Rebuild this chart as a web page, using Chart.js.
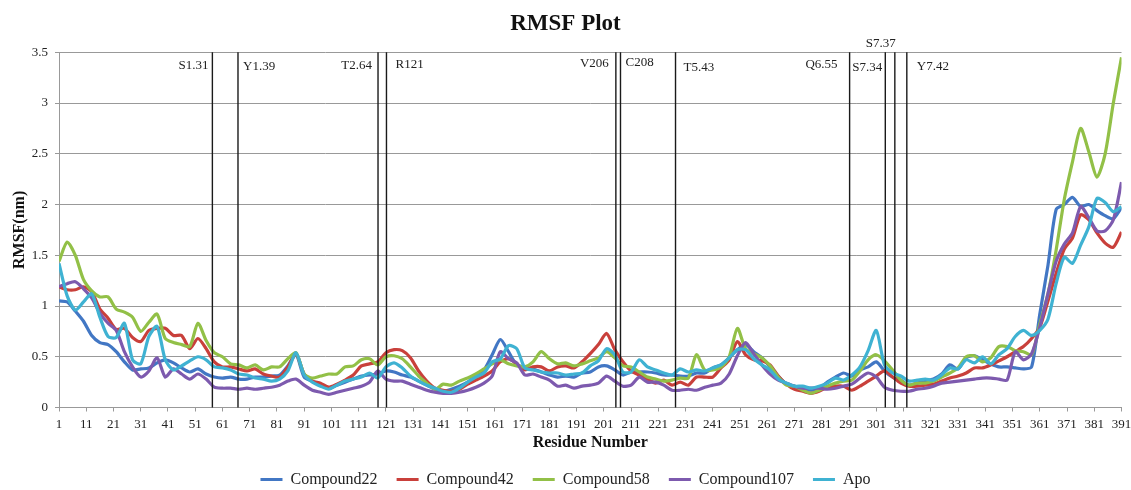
<!DOCTYPE html>
<html>
<head>
<meta charset="utf-8">
<title>RMSF Plot</title>
<script src="https://cdn.jsdelivr.net/npm/chart.js@4.4.0/dist/chart.umd.min.js"></script>
<style>
  html, body { margin: 0; padding: 0; background: #fff; }
  #rmsfChart { display: block; }
</style>
</head>
<body>
<canvas id="rmsfChart" width="1131" height="490"></canvas>
<script>
// residue numbers the values were read at
const residues = [
  1, 4, 7, 10, 13, 16, 19, 22, 25, 28, 31, 34, 37, 40, 43, 46, 49, 52, 55, 58, 61, 64, 67, 70,
  73, 76, 79, 82, 85, 88, 91, 94, 97, 100, 103, 106, 109, 112, 115, 118, 121, 124, 127, 130, 133, 136, 139,
  142, 145, 148, 151, 154, 157, 160, 163, 166, 169, 172, 175, 178, 181, 184, 187, 190, 193, 196, 199, 202, 205, 208,
  211, 214, 217, 220, 223, 226, 229, 232, 235, 238, 241, 244, 247, 250, 253, 256, 259, 262, 265, 268, 271, 274, 277, 280,
  283, 286, 289, 292, 295, 298, 301, 304, 307, 310, 313, 316, 319, 322, 325, 328, 331, 334, 337, 340, 343,
  346, 349, 352, 355, 358, 361, 364, 367, 370, 373, 376, 379, 382, 385, 388, 391
];

const xTickValues = [1, 11, 21, 31, 41, 51, 61, 71, 81, 91, 101, 111, 121, 131, 141, 151, 161, 171, 181, 191,
  201, 211, 221, 231, 241, 251, 261, 271, 281, 291, 301, 311, 321, 331, 341, 351, 361, 371, 381, 391];

// RMSF (nm)
const compound22 = [
  1.05, 1.04, 0.95, 0.85, 0.71, 0.64, 0.62, 0.55, 0.45, 0.37, 0.38, 0.39, 0.44, 0.47, 0.44, 0.39, 0.35, 0.38, 0.33, 0.30, 0.29, 0.30, 0.28, 0.28,
  0.30, 0.30, 0.31, 0.32, 0.41, 0.52, 0.30, 0.26, 0.22, 0.19, 0.22, 0.25, 0.28, 0.31, 0.32, 0.33, 0.36, 0.35, 0.32, 0.30, 0.26, 0.22, 0.18,
  0.16, 0.18, 0.21, 0.25, 0.31, 0.37, 0.52, 0.67, 0.55, 0.42, 0.40, 0.38, 0.35, 0.32, 0.30, 0.31, 0.30, 0.34, 0.35, 0.40, 0.41, 0.37, 0.32,
  0.35, 0.35, 0.35, 0.34, 0.32, 0.32, 0.31, 0.31, 0.34, 0.34, 0.39, 0.42, 0.49, 0.57, 0.62, 0.55, 0.49, 0.40, 0.31, 0.23, 0.21, 0.19, 0.17, 0.19,
  0.25, 0.30, 0.34, 0.31, 0.37, 0.40, 0.45, 0.36, 0.30, 0.27, 0.22, 0.24, 0.26, 0.28, 0.33, 0.42, 0.38, 0.49, 0.51, 0.47, 0.43,
  0.40, 0.40, 0.39, 0.38, 0.40, 0.92, 1.40, 1.95, 2.00, 2.07, 1.98, 2.00, 1.94, 1.89, 1.86, 1.97
];
const compound42 = [
  1.19, 1.16, 1.16, 1.19, 1.14, 0.97, 0.88, 0.77, 0.78, 0.69, 0.65, 0.76, 0.78, 0.78, 0.71, 0.71, 0.58, 0.68, 0.58, 0.45, 0.40, 0.40, 0.38, 0.36,
  0.38, 0.33, 0.31, 0.30, 0.40, 0.53, 0.33, 0.26, 0.24, 0.20, 0.23, 0.27, 0.32, 0.41, 0.43, 0.45, 0.54, 0.57, 0.56, 0.49, 0.36, 0.26, 0.19,
  0.17, 0.16, 0.18, 0.23, 0.27, 0.31, 0.36, 0.45, 0.48, 0.43, 0.37, 0.40, 0.40, 0.36, 0.40, 0.41, 0.39, 0.45, 0.53, 0.62, 0.73, 0.57, 0.45,
  0.36, 0.32, 0.28, 0.24, 0.27, 0.22, 0.25, 0.22, 0.30, 0.30, 0.30, 0.39, 0.47, 0.65, 0.52, 0.47, 0.46, 0.42, 0.31, 0.23, 0.18, 0.16, 0.14, 0.16,
  0.20, 0.21, 0.21, 0.17, 0.21, 0.26, 0.31, 0.36, 0.30, 0.24, 0.21, 0.21, 0.22, 0.23, 0.26, 0.29, 0.31, 0.34, 0.39, 0.39, 0.42,
  0.46, 0.50, 0.55, 0.60, 0.68, 0.79, 1.05, 1.32, 1.56, 1.67, 1.90, 1.85, 1.72, 1.62, 1.58, 1.73
];
const compound58 = [
  1.44, 1.63, 1.50, 1.26, 1.15, 1.09, 1.09, 0.97, 0.94, 0.89, 0.75, 0.84, 0.92, 0.68, 0.64, 0.62, 0.60, 0.83, 0.66, 0.54, 0.50, 0.43, 0.42, 0.39,
  0.42, 0.37, 0.40, 0.40, 0.48, 0.54, 0.33, 0.29, 0.31, 0.33, 0.33, 0.40, 0.41, 0.47, 0.48, 0.42, 0.50, 0.51, 0.48, 0.40, 0.31, 0.24, 0.18,
  0.23, 0.22, 0.26, 0.29, 0.33, 0.38, 0.43, 0.47, 0.43, 0.41, 0.40, 0.45, 0.55, 0.48, 0.43, 0.44, 0.41, 0.43, 0.46, 0.49, 0.55, 0.49, 0.41,
  0.40, 0.35, 0.30, 0.28, 0.26, 0.27, 0.29, 0.29, 0.52, 0.37, 0.37, 0.40, 0.50, 0.78, 0.58, 0.53, 0.49, 0.41, 0.30, 0.22, 0.21, 0.17, 0.14, 0.17,
  0.21, 0.24, 0.26, 0.27, 0.36, 0.47, 0.52, 0.46, 0.37, 0.27, 0.22, 0.24, 0.24, 0.26, 0.30, 0.34, 0.39, 0.50, 0.51, 0.45, 0.49,
  0.60, 0.60, 0.56, 0.55, 0.52, 0.82, 1.12, 1.55, 2.05, 2.42, 2.75, 2.52, 2.27, 2.50, 3.00, 3.45
];
const compound107 = [
  1.19, 1.22, 1.24, 1.17, 1.08, 0.93, 0.83, 0.76, 0.55, 0.40, 0.30, 0.36, 0.49, 0.30, 0.38, 0.33, 0.28, 0.33, 0.28, 0.20, 0.19, 0.19, 0.18, 0.19,
  0.18, 0.19, 0.20, 0.22, 0.26, 0.28, 0.22, 0.17, 0.15, 0.13, 0.15, 0.17, 0.19, 0.21, 0.25, 0.36, 0.28, 0.26, 0.26, 0.23, 0.20, 0.17, 0.15,
  0.14, 0.14, 0.15, 0.17, 0.20, 0.24, 0.31, 0.55, 0.48, 0.44, 0.32, 0.33, 0.30, 0.27, 0.21, 0.22, 0.19, 0.21, 0.22, 0.24, 0.31, 0.26, 0.21,
  0.22, 0.30, 0.25, 0.25, 0.22, 0.17, 0.17, 0.18, 0.17, 0.20, 0.22, 0.24, 0.33, 0.51, 0.64, 0.53, 0.42, 0.33, 0.27, 0.24, 0.21, 0.19, 0.19, 0.19,
  0.18, 0.19, 0.21, 0.23, 0.29, 0.34, 0.30, 0.20, 0.17, 0.16, 0.16, 0.18, 0.19, 0.21, 0.24, 0.25, 0.26, 0.27, 0.28, 0.29, 0.29,
  0.28, 0.27, 0.55, 0.47, 0.53, 0.79, 1.12, 1.44, 1.61, 1.72, 1.98, 1.87, 1.74, 1.74, 1.85, 2.22
];
const apo = [
  1.42, 1.10, 0.96, 1.04, 1.12, 0.89, 0.70, 0.69, 0.83, 0.47, 0.43, 0.70, 0.80, 0.47, 0.37, 0.41, 0.46, 0.50, 0.47, 0.40, 0.39, 0.37, 0.33, 0.32,
  0.29, 0.28, 0.26, 0.28, 0.36, 0.54, 0.32, 0.25, 0.21, 0.18, 0.22, 0.26, 0.28, 0.30, 0.34, 0.29, 0.40, 0.44, 0.39, 0.31, 0.26, 0.22, 0.19,
  0.16, 0.15, 0.19, 0.25, 0.30, 0.34, 0.45, 0.48, 0.61, 0.58, 0.39, 0.37, 0.35, 0.34, 0.34, 0.32, 0.33, 0.34, 0.41, 0.46, 0.58, 0.52, 0.35,
  0.35, 0.47, 0.40, 0.37, 0.34, 0.32, 0.38, 0.35, 0.37, 0.36, 0.39, 0.42, 0.49, 0.57, 0.57, 0.48, 0.42, 0.37, 0.28, 0.24, 0.21, 0.21, 0.19, 0.21,
  0.24, 0.29, 0.27, 0.32, 0.40, 0.56, 0.76, 0.42, 0.34, 0.31, 0.26, 0.27, 0.28, 0.27, 0.32, 0.39, 0.38, 0.47, 0.44, 0.50, 0.43,
  0.52, 0.58, 0.70, 0.76, 0.71, 0.76, 0.87, 1.22, 1.48, 1.42, 1.60, 1.78, 2.06, 2.02, 1.93, 1.98
];

const seriesNames = ['Compound22', 'Compound42', 'Compound58', 'Compound107', 'Apo'];
const seriesValues = [compound22, compound42, compound58, compound107, apo];
const seriesColors = ['#4277C4', '#C9403B', '#92C047', '#7D5AAE', '#3FB2D2'];

// binding-site residues marked with vertical lines
const markerResidues = [57.3, 66.7, 118.1, 121.2, 205.4, 207.1, 227.3, 291.2, 304.3, 307.8, 312.2];
const markerLabels = ['S1.31', 'Y1.39', 'T2.64', 'R121', 'V206', 'C208', 'T5.43', 'Q6.55', 'S7.34', 'S7.37', 'Y7.42'];

// where each marker label sits (pixel offsets from its line)
const labelAlign = ['right', 'left', 'right', 'left', 'right', 'left', 'left', 'right', 'right', 'right', 'left'];
const labelDx = [-4, 5, -6, 9, -7, 5, 8, -12, -3, 1, 10];
const labelY = [66, 67, 66, 65, 64, 63, 68, 65, 68, 44, 67];

const serif = '"Liberation Serif", "Times New Roman", serif';

const markerLines = {
  id: 'markerLines',
  afterDatasetsDraw(chart) {
    const { ctx, chartArea } = chart;
    const xScale = chart.scales.x;
    ctx.save();
    ctx.strokeStyle = '#1a1a1a';
    ctx.lineWidth = 1.4;
    ctx.fillStyle = '#222';
    ctx.font = '13px ' + serif;
    ctx.textBaseline = 'middle';
    markerResidues.forEach((r, i) => {
      const px = xScale.getPixelForValue(r);
      ctx.beginPath();
      ctx.moveTo(px, chartArea.top);
      ctx.lineTo(px, chartArea.bottom);
      ctx.stroke();
      ctx.textAlign = labelAlign[i];
      ctx.fillText(markerLabels[i], px + labelDx[i], labelY[i]);
    });
    ctx.restore();
  }
};

function buildDatasets() {
  return seriesNames.map((name, i) => ({
    label: name,
    data: residues.map((r, j) => ({ x: r, y: seriesValues[i][j] })),
    borderColor: seriesColors[i],
    backgroundColor: seriesColors[i],
    borderWidth: 3.2,
    pointRadius: 0,
    tension: 0.25,
    order: seriesNames.length - i
  }));
}

const ctx = document.getElementById('rmsfChart').getContext('2d');
new Chart(ctx, {
  type: 'line',
  data: { datasets: buildDatasets() },
  options: {
    responsive: false,
    animation: false,
    devicePixelRatio: 1,
    layout: { padding: { left: 0, right: 0, top: 0, bottom: 0 } },
    plugins: {
      title: {
        display: true,
        text: 'RMSF Plot',
        color: '#111',
        font: { family: serif, size: 23, weight: 'bold' },
        padding: { top: 10, bottom: 14.7 }
      },
      legend: {
        position: 'bottom',
        maxHeight: 37.5,
        labels: {
          usePointStyle: true,
          pointStyle: 'line',
          pointStyleWidth: 22,
          boxWidth: 22,
          padding: 19,
          color: '#222',
          font: { family: serif, size: 16 },
          sort: (a, b) => a.datasetIndex - b.datasetIndex
        }
      },
      tooltip: { enabled: false }
    },
    scales: {
      x: {
        type: 'linear',
        min: 1,
        max: 391,
        afterBuildTicks: axis => {
          axis.ticks = xTickValues.map(v => ({ value: v }));
        },
        afterFit: scale => {
          scale.height = 45;
          scale.paddingRight = 9.5;
        },
        ticks: {
          autoSkip: false,
          maxRotation: 0,
          padding: 5,
          color: '#222',
          font: { family: serif, size: 13 },
          callback: v => String(v)
        },
        grid: { drawOnChartArea: false, drawTicks: true, tickLength: 4, color: '#999' },
        border: { color: '#999' },
        title: {
          display: true,
          text: 'Residue Number',
          color: '#111',
          font: { family: serif, size: 16, weight: 'bold' },
          padding: { top: 0, bottom: 0 }
        }
      },
      y: {
        min: 0,
        max: 3.5,
        afterFit: scale => { scale.width = 59; },
        ticks: {
          stepSize: 0.5,
          padding: 7,
          color: '#222',
          font: { family: serif, size: 13 },
          callback: v => String(v)
        },
        grid: { color: '#999', tickLength: 4 },
        border: { color: '#999' },
        title: {
          display: true,
          text: 'RMSF(nm)',
          color: '#111',
          font: { family: serif, size: 16, weight: 'bold' },
          padding: { top: 10, bottom: 0 }
        }
      }
    }
  },
  plugins: [markerLines]
});
</script>
</body>
</html>
